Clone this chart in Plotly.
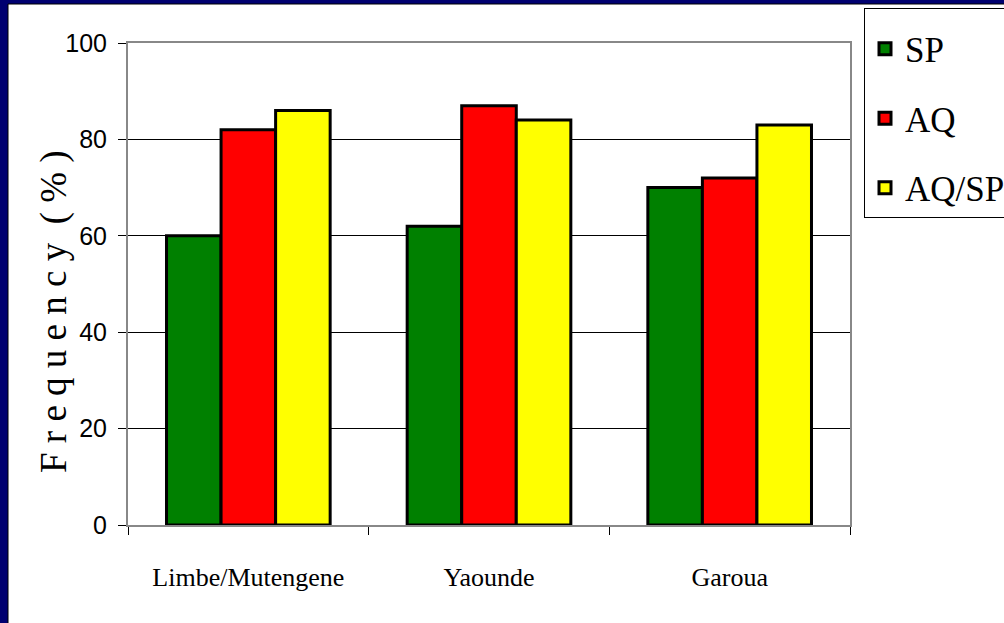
import plotly.graph_objects as go

categories = ["Limbe/Mutengene", "Yaounde", "Garoua"]
series_names = ["SP", "AQ", "AQ/SP"]
sp_values = [60, 62, 70]
aq_values = [82, 87, 72]
aqsp_values = [86, 84, 83]
series_colors = ["#008000", "#ff0000", "#ffff00"]
y_ticks = [0, 20, 40, 60, 80, 100]
y_title = "F r e q u e n c y  ( % )"

W, H = 1004, 623
L, R, T, B = 128, 850, 43, 525
pw, ph = R - L, B - T

def px2x(p):
    return (p - L) / pw

def px2y(p):
    return (B - p) / ph

SERIF = "Liberation Serif, Times New Roman, serif"
SANS = "Liberation Sans, Arial, sans-serif"

fig = go.Figure()
for name, vals, col in zip(series_names, [sp_values, aq_values, aqsp_values], series_colors):
    fig.add_trace(go.Bar(
        x=categories, y=vals, name=name, legendgroup=name,
        marker=dict(color=col, line=dict(color="black", width=3)),
    ))

fig.update_layout(
    width=W, height=H,
    margin=dict(l=L, r=W - R, t=T, b=H - B, autoexpand=False),
    paper_bgcolor="#000070",
    plot_bgcolor="white",
    barmode="group", bargap=0.32, bargroupgap=0,
    showlegend=True,
    legend=dict(
        x=px2x(864), y=px2y(8), xanchor="left", yanchor="top",
        bgcolor="white", bordercolor="black", borderwidth=1,
        font=dict(family=SERIF, size=35, color="black"),
        title=dict(text=" ", font=dict(size=8)),
        traceorder="grouped", tracegroupgap=21,
        itemwidth=30,
    ),
    xaxis=dict(
        showgrid=False, showline=True, linecolor="#888888", linewidth=2,
        mirror=True, ticks="outside", tickson="boundaries", ticklen=8,
        tickcolor="black", tickwidth=1,
        tickfont=dict(family=SERIF, size=26, color="black"),
        ticklabelstandoff=28,
    ),
    yaxis=dict(
        range=[0, 100], tickvals=y_ticks, showgrid=True, gridcolor="black",
        gridwidth=1, zeroline=False, showline=True, linecolor="#888888",
        linewidth=2, mirror=True, ticks="outside", ticklen=8, tickcolor="black",
        tickwidth=1, tickfont=dict(family=SANS, size=25, color="black"),
        ticklabelstandoff=6,
    ),
    shapes=[dict(
        type="rect", xref="paper", yref="paper", layer="below",
        x0=px2x(8), x1=px2x(1012), y0=px2y(632), y1=px2y(4),
        fillcolor="white", line=dict(color="black", width=1),
    )],
    annotations=[dict(
        text=y_title, xref="paper", yref="paper",
        x=px2x(54), y=px2y(312), xanchor="center", yanchor="middle",
        textangle=-90, showarrow=False,
        font=dict(family=SERIF, size=37, color="black"),
    )],
)

fig.write_html(
    "out.html",
    config={"displayModeBar": False},
    post_script="document.body.style.margin='0';document.body.style.overflow='hidden';",
)
